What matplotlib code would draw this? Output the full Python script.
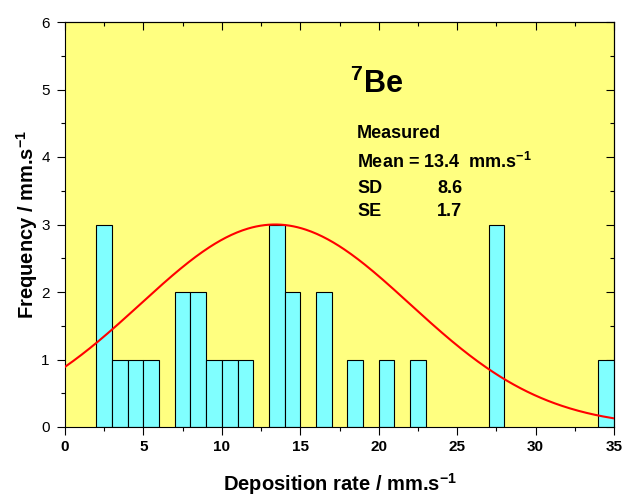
import numpy as np
import matplotlib.pyplot as plt
from matplotlib.ticker import MultipleLocator

plt.rcParams['font.family'] = ['Liberation Sans', 'DejaVu Sans']
plt.rcParams['mathtext.fontset'] = 'custom'
plt.rcParams['mathtext.rm'] = 'Liberation Sans'
plt.rcParams['mathtext.bf'] = 'Liberation Sans:bold'

# Histogram bins (left edge, width 1) and counts
bin_left = [2, 3, 4, 5, 7, 8, 9, 10, 11, 13, 14, 16, 18, 20, 22, 27, 34]
counts = [3, 1, 1, 1, 2, 2, 1, 1, 1, 3, 2, 2, 1, 1, 1, 3, 1]

# Fitted normal curve parameters
mean = 13.4
sd = 8.6
se = 1.7
peak = 3.0

fig = plt.figure(figsize=(6.24, 4.97), dpi=100)
ax = fig.add_axes([65 / 624, 1 - 427 / 497, 549 / 624, 405 / 497])
ax.set_facecolor('#FFFF80')

ax.bar(bin_left, counts, width=1, align='edge', color='#80FFFF',
       edgecolor='black', linewidth=0.8, zorder=2)

xs = np.linspace(0, 35, 400)
ax.plot(xs, peak * np.exp(-(xs - mean) ** 2 / (2 * sd ** 2)),
        color='red', linewidth=1.5, zorder=3)

ax.set_xlim(0, 35)
ax.set_ylim(0, 6)
ax.xaxis.set_major_locator(MultipleLocator(5))
ax.xaxis.set_minor_locator(MultipleLocator(2.5))
ax.yaxis.set_major_locator(MultipleLocator(1))
ax.yaxis.set_minor_locator(MultipleLocator(0.5))
ax.tick_params(which='major', direction='out', length=6, width=0.8, labelsize=11)
ax.tick_params(axis='y', pad=5)
ax.tick_params(which='minor', direction='out', length=3, width=0.8)
for lab in ax.get_xticklabels():
    lab.set_fontweight('bold')
for sp in ax.spines.values():
    sp.set_linewidth(0.8)

# inward ticks on top and right
top = ax.secondary_xaxis('top')
top.xaxis.set_major_locator(MultipleLocator(5))
top.xaxis.set_minor_locator(MultipleLocator(2.5))
top.tick_params(which='major', direction='in', length=6, width=0.8, labeltop=False)
top.tick_params(which='minor', direction='in', length=3, width=0.8)
right = ax.secondary_yaxis('right')
right.yaxis.set_major_locator(MultipleLocator(1))
right.yaxis.set_minor_locator(MultipleLocator(0.5))
right.tick_params(which='major', direction='in', length=6, width=0.8, labelright=False)
right.tick_params(which='minor', direction='in', length=3, width=0.8)

ax.set_xlabel(r'Deposition rate / mm.s$^{\mathbf{-1}}$', fontsize=14.5,
              fontweight='bold', labelpad=12)
ax.set_ylabel(r'Frequency / mm.s$^{\mathbf{-1}}$', fontsize=14.5,
              fontweight='bold', labelpad=1)

ax.text(0.519, 0.825, r'$^{\mathbf{7}}$Be', transform=ax.transAxes,
        fontsize=22, fontweight='bold')
fs = 13
ax.text(0.532, 0.714, 'Measured', transform=ax.transAxes, fontsize=fs, fontweight='bold')
ax.text(0.532, 0.640, r'Mean = %.1f  mm.s$^{\mathbf{-1}}$' % mean,
        transform=ax.transAxes, fontsize=fs, fontweight='bold')
ax.text(0.532, 0.578, 'SD', transform=ax.transAxes, fontsize=fs, fontweight='bold')
ax.text(0.678, 0.578, '%.1f' % sd, transform=ax.transAxes, fontsize=fs, fontweight='bold')
ax.text(0.532, 0.521, 'SE', transform=ax.transAxes, fontsize=fs, fontweight='bold')
ax.text(0.678, 0.521, '%.1f' % se, transform=ax.transAxes, fontsize=fs, fontweight='bold')

fig.savefig('out.png', dpi=100)
